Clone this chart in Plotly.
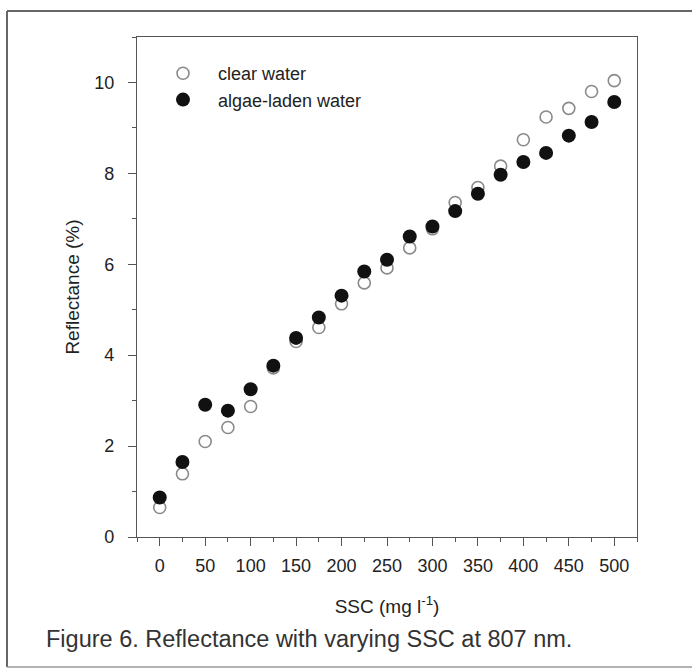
import plotly.graph_objects as go

ssc = [0, 25, 50, 75, 100, 125, 150, 175, 200, 225, 250, 275, 300, 325, 350,
       375, 400, 425, 450, 475, 500]
clear_water = [0.65, 1.39, 2.10, 2.41, 2.87, 3.72, 4.30, 4.61, 5.13, 5.59, 5.92,
               6.36, 6.78, 7.36, 7.69, 8.16, 8.74, 9.24, 9.43, 9.80, 10.04]
algae_water = [0.87, 1.65, 2.91, 2.78, 3.25, 3.77, 4.38, 4.83, 5.31, 5.84, 6.10,
               6.61, 6.83, 7.17, 7.55, 7.97, 8.25, 8.45, 8.83, 9.13, 9.57]
x_ticks = [0, 50, 100, 150, 200, 250, 300, 350, 400, 450, 500]
y_ticks = [0, 2, 4, 6, 8, 10]

W, H = 692, 668
L, R, T, B = 137, 55, 37, 131

FAM = "Liberation Sans, Arial, sans-serif"

fig = go.Figure()
fig.add_trace(go.Scatter(
    x=ssc, y=clear_water, mode="markers", name="clear water",
    marker=dict(symbol="circle-open", size=12, color="#8a8a8a",
                line=dict(width=1.6, color="#8a8a8a")),
))
fig.add_trace(go.Scatter(
    x=ssc, y=algae_water, mode="markers", name="algae-laden water",
    marker=dict(symbol="circle", size=14, color="#111111",
                line=dict(width=0)),
))

tick_font = dict(family=FAM, size=18, color="#222222")
title_font = dict(family=FAM, size=19, color="#222222")

fig.update_xaxes(
    range=[-25, 525], tickvals=x_ticks, ticks="outside", ticklen=8, tickwidth=1.2,
    tickcolor="#555555", showline=True, linecolor="#555555", linewidth=1.3,
    mirror=True, showgrid=False, zeroline=False, tickfont=tick_font,
    ticklabelstandoff=4,
    minor=dict(dtick=25, tick0=0, ticks="outside", ticklen=4, tickcolor="#555555",
               showgrid=False),
    title=dict(text="SSC (mg l<sup>-1</sup>)", font=title_font, standoff=24),
)
fig.update_yaxes(
    range=[0, 11], tickvals=y_ticks, ticks="outside", ticklen=8, tickwidth=1.2,
    tickcolor="#555555", showline=True, linecolor="#555555", linewidth=1.3,
    mirror=True, showgrid=False, zeroline=False, tickfont=tick_font,
    ticklabelstandoff=10,
    minor=dict(dtick=1, tick0=0, ticks="outside", ticklen=4, tickcolor="#555555",
               showgrid=False),
    title=dict(text="Reflectance (%)", font=title_font, standoff=9),
)

pw, ph = W - L - R, H - T - B
def px2x(px):
    return (px - L) / pw
def py2y(py):
    return (H - B - py) / ph

fig.add_annotation(
    text="Figure 6. Reflectance with varying SSC at 807 nm.",
    xref="paper", yref="paper", x=px2x(44), y=py2y(639),
    xanchor="left", yanchor="middle", showarrow=False,
    font=dict(family=FAM, size=23.5, color="#333333"),
)

line_style = dict(color="#666666", width=2)
fig.add_shape(type="line", xref="paper", yref="paper", x0=px2x(7), x1=px2x(692),
              y0=py2y(11), y1=py2y(11), line=line_style)
fig.add_shape(type="line", xref="paper", yref="paper", x0=px2x(7), x1=px2x(7),
              y0=py2y(11), y1=py2y(667), line=line_style)
fig.add_shape(type="line", xref="paper", yref="paper", x0=px2x(7), x1=px2x(692),
              y0=py2y(667), y1=py2y(667), line=dict(color="#999999", width=1.5))

fig.update_layout(
    width=W, height=H, margin=dict(l=L, r=R, t=T, b=B),
    paper_bgcolor="white", plot_bgcolor="white",
    showlegend=True,
    legend=dict(x=px2x(148), y=py2y(55), xanchor="left", yanchor="top",
                bgcolor="rgba(0,0,0,0)", itemwidth=60, tracegroupgap=0,
                font=dict(family=FAM, size=18, color="#222222")),
)

fig.write_html("out.html")
